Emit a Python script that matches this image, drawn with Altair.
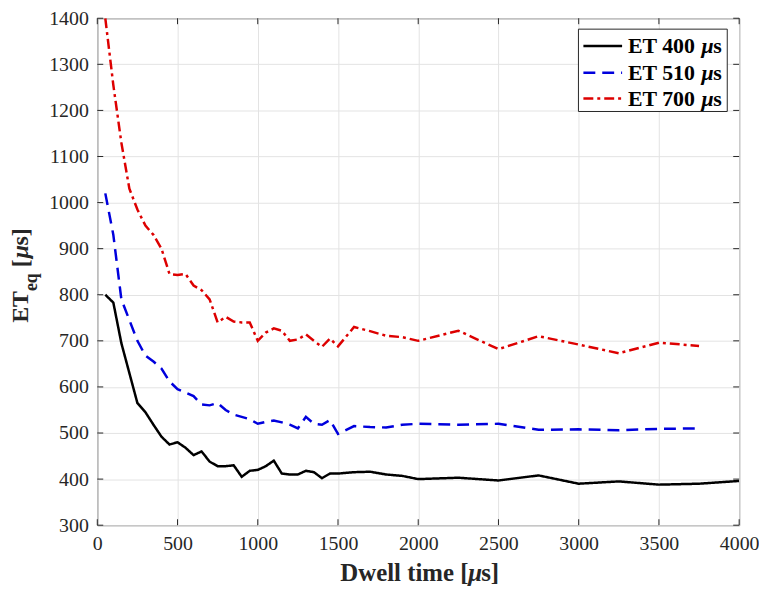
import altair as alt
import pandas as pd

# ---------------- data ----------------
dwell_long = [50, 100, 150, 200, 250, 300, 350, 400, 450, 500,
              550, 600, 650, 700, 750, 800, 850, 900, 950, 1000,
              1050, 1100, 1150, 1200, 1250, 1300, 1350, 1400, 1450, 1500,
              1600, 1700, 1800, 1900, 2000, 2250, 2500, 2750, 3000, 3250,
              3500, 3750, 4000]
dwell_short = dwell_long[:-1]

et400 = [800, 783, 695, 630, 565, 545, 518, 492, 475, 480,
         468, 452, 460, 438, 428, 428, 430, 405, 418, 420,
         428, 440, 412, 410, 410, 418, 415, 402, 412, 412,
         415, 416, 410, 407, 400, 403, 397, 408, 390, 395,
         388, 390, 396]
et510 = [1020, 930, 790, 745, 700, 668, 655, 640, 612, 595,
         588, 580, 562, 560, 565, 550, 540, 535, 530, 520,
         524, 527, 523, 518, 510, 535, 520, 518, 528, 498,
         515, 513, 512, 518, 520, 518, 520, 507, 508, 506,
         509, 510]
et700 = [1400, 1255, 1130, 1030, 985, 950, 930, 900, 845, 843,
         845, 820, 810, 790, 740, 752, 742, 740, 740, 700,
         718, 727, 722, 700, 703, 714, 700, 687, 705, 688,
         730, 721, 711, 708, 700, 722, 682, 710, 692, 673,
         696, 689]

series_names = ["ET 400 \u03bcs", "ET 510 \u03bcs", "ET 700 \u03bcs"]
legend_numbers = ["ET 400", "ET 510", "ET 700"]
series_colors = ["#000000", "#0000dd", "#dd0000"]
series_dashes = [[1, 0], [12, 7], [10, 4, 3, 4]]

x_ticks = [0, 500, 1000, 1500, 2000, 2500, 3000, 3500, 4000]
y_ticks = [300, 400, 500, 600, 700, 800, 900, 1000, 1100, 1200, 1300, 1400]

x_title_parts = ["Dwell time [", "\u03bc", "s]"]
y_title_parts = ["ET", "eq", "[", "\u03bc", "s]"]

# ---------------- build table ----------------
rows = []
for name, xs, ys in [(series_names[0], dwell_long, et400),
                     (series_names[1], dwell_short, et510),
                     (series_names[2], dwell_short, et700)]:
    for xv, yv in zip(xs, ys):
        rows.append({"dwell": xv, "et": yv, "series": name})
df = pd.DataFrame(rows)

W, H = 647, 511
FONT = "Liberation Serif"
AX = "#262626"

xscale = alt.Scale(domain=[0, 4000], nice=False, zero=False)
yscale = alt.Scale(domain=[300, 1400], nice=False, zero=False)

axis_common = dict(title=None, grid=True, gridColor="#e3e3e3", domain=False,
                   ticks=False, labelFont=FONT, labelFontSize=20, labelColor=AX,
                   labelPadding=9, format="d")

lines = alt.Chart(df).mark_line(strokeWidth=2.5, clip=True).encode(
    x=alt.X("dwell:Q", scale=xscale,
            axis=alt.Axis(values=x_ticks, labelFlush=False, **axis_common)),
    y=alt.Y("et:Q", scale=yscale,
            axis=alt.Axis(values=y_ticks, **axis_common)),
    color=alt.Color("series:N", scale=alt.Scale(domain=series_names, range=series_colors),
                    legend=None),
    strokeDash=alt.StrokeDash("series:N", scale=alt.Scale(domain=series_names, range=series_dashes),
                              legend=None),
    order="dwell:Q",
)

# inward tick marks (MATLAB style) on all four sides
xt = pd.DataFrame({"v": x_ticks})
yt = pd.DataFrame({"v": y_ticks})
tick_style = dict(color=AX, strokeWidth=1)
bot = alt.Chart(xt).mark_rule(**tick_style).encode(
    x=alt.X("v:Q", scale=xscale), y=alt.value(H), y2=alt.value(H - 6))
top = alt.Chart(xt).mark_rule(**tick_style).encode(
    x=alt.X("v:Q", scale=xscale), y=alt.value(0), y2=alt.value(6))
lft = alt.Chart(yt).mark_rule(**tick_style).encode(
    y=alt.Y("v:Q", scale=yscale), x=alt.value(0), x2=alt.value(6))
rgt = alt.Chart(yt).mark_rule(**tick_style).encode(
    y=alt.Y("v:Q", scale=yscale), x=alt.value(W), x2=alt.value(W - 6))

# ---------------- custom legend (italic mu) ----------------
LX0, LX1, LY0, LY1 = 485, 635, 11, 94
row_y = [28, 55, 81]
leg_box = alt.Chart(pd.DataFrame({"k": [0]})).mark_rect(
    fill="white", stroke=AX, strokeWidth=1
).encode(x=alt.value(LX0), x2=alt.value(LX1), y=alt.value(LY0), y2=alt.value(LY1))
leg_layers = [leg_box]
for i in range(3):
    leg_layers.append(
        alt.Chart(pd.DataFrame({"k": [i]})).mark_rule(
            color=series_colors[i], strokeDash=series_dashes[i], strokeWidth=2.5
        ).encode(x=alt.value(490), x2=alt.value(529), y=alt.value(row_y[i]))
    )
    base_y = row_y[i] + 7
    for t, px, st in [(legend_numbers[i], 535, "normal"), ("\u03bc", 609, "italic"), ("s", 621, "normal")]:
        leg_layers.append(
            alt.Chart(pd.DataFrame({"t": [t]})).mark_text(
                font=FONT, fontSize=22, fontWeight="bold", fontStyle=st, color="black",
                align="left", baseline="alphabetic"
            ).encode(text="t:N", x=alt.value(px), y=alt.value(base_y))
        )

# x-axis title composed of pieces (italic mu)
xs0 = 245
x_pos = [xs0, xs0 + 129, xs0 + 142]
x_styles = ["normal", "italic", "normal"]
x_title = []
for t, px, st in zip(x_title_parts, x_pos, x_styles):
    x_title.append(
        alt.Chart(pd.DataFrame({"t": [t]})).mark_text(
            font=FONT, fontSize=25, fontWeight="bold", fontStyle=st, color=AX,
            align="left", baseline="alphabetic"
        ).encode(text="t:N", x=alt.value(px), y=alt.value(567))
    )

# y-axis title composed of pieces (subscript "eq", italic mu), rotated
y_pos = [307, 275, 251, 242, 229]
y_x = [-70, -61, -70, -70, -70]
y_sizes = [24, 18, 24, 24, 24]
y_styles = ["normal", "normal", "normal", "italic", "normal"]
y_title = []
for t, py, px, fs, st in zip(y_title_parts, y_pos, y_x, y_sizes, y_styles):
    y_title.append(
        alt.Chart(pd.DataFrame({"t": [t]})).mark_text(
            font=FONT, fontSize=fs, fontWeight="bold", fontStyle=st, color=AX,
            align="left", baseline="alphabetic", angle=270
        ).encode(text="t:N", x=alt.value(px), y=alt.value(py))
    )

chart = alt.layer(lines, bot, top, lft, rgt, *leg_layers, *x_title, *y_title).properties(
    width=W, height=H,
    autosize=alt.AutoSizeParams(type="none"),
    padding={"left": 90, "top": 8, "right": 20, "bottom": 62},
    background="white",
).configure_view(stroke=AX, strokeWidth=1).configure_axis(
    labelFont=FONT, labelFontSize=20
)

chart.save("out.html", embed_options={"renderer": "svg", "actions": False})
